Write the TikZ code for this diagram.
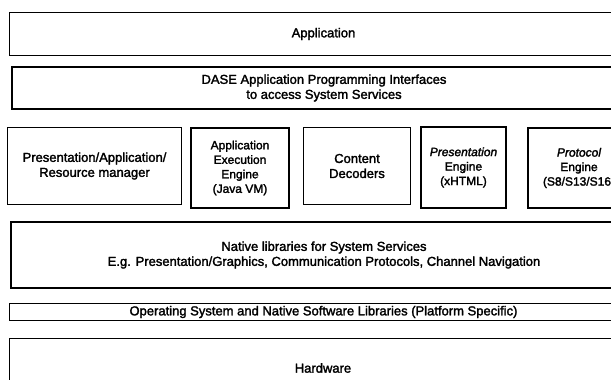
\documentclass[tikz,border=0pt]{standalone}
\usepackage{fontspec}
\setmainfont{Liberation Sans}[FakeBold=2]
\begin{document}
\begin{tikzpicture}[x=1pt,y=-1pt,
  layer/.style={draw, line width=1pt, anchor=north west, inner sep=0pt,
    align=center, font=\fontsize{13}{15}\selectfont},
  heavylayer/.style={layer, line width=2pt},
  module/.style={layer},
  heavymodule/.style={layer, line width=2pt},
  smalltext/.style={font=\fontsize{12}{14.5}\selectfont}]
\useasboundingbox (0,0) rectangle (611,380);
\clip (0,0) rectangle (611,380);

% application layer and API layer
\node[layer, minimum width=628pt, minimum height=43pt] (app) at (9,12) {Application};
\node[heavylayer, minimum width=624pt, minimum height=42pt] (api) at (11,66)
  {DASE Application Programming Interfaces\\to access System Services};

% middleware modules
\node[module, minimum width=174pt, minimum height=77pt] (mgr) at (7,127)
  {Presentation/Application/\\Resource manager};
\node[heavymodule, smalltext, minimum width=98pt, minimum height=80pt] (aee) at (190,127)
  {Application\\Execution\\Engine\\(Java VM)};
\node[module, minimum width=107pt, minimum height=77pt] (dec) at (303,127)
  {Content\\Decoders};
\node[heavymodule, smalltext, minimum width=85pt, minimum height=81pt] (pe) at (420,126)
  {\itshape Presentation\\Engine\\(xHTML)};
\node[heavymodule, smalltext, minimum width=102pt, minimum height=80pt] (proto) at (527,127)
  {\itshape Protocol\\Engine\\(S8/S13/S16\phantom{)}};

% native layers and hardware
\node[heavylayer, minimum width=626pt, minimum height=66pt] (nat) at (10,221)
  {Native libraries for System Services\\E.g. Presentation/Graphics, Communication Protocols, Channel Navigation};
\node[layer, minimum width=628pt, minimum height=17pt] (os) at (9,303)
  {Operating System and Native Software Libraries (Platform Specific)};
\node[layer, minimum width=628pt, minimum height=60pt] (hw) at (9,338) {};
\node[font=\fontsize{13}{15}\selectfont] (hwlabel) at (323,368) {Hardware};
\end{tikzpicture}
\end{document}
